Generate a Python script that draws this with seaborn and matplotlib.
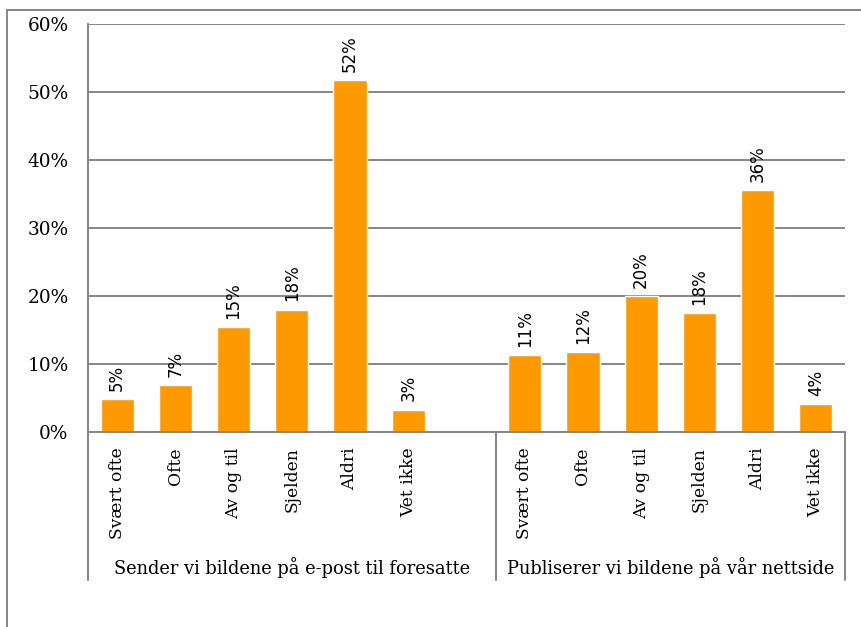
import pandas as pd
import matplotlib.pyplot as plt
import seaborn as sns
import matplotlib.ticker as ticker
from matplotlib.patches import Rectangle

sns.set_style('white')
plt.rcParams['font.family'] = ['DejaVu Serif']
plt.rcParams['text.color'] = 'black'
plt.rcParams['xtick.color'] = 'black'
plt.rcParams['ytick.color'] = 'black'

kategorier = ['Svært ofte', 'Ofte', 'Av og til', 'Sjelden', 'Aldri', 'Vet ikke']
grupper = ['Sender vi bildene på e-post til foresatte',
           'Publiserer vi bildene på vår nettside']
epost = [4.8, 6.9, 15.4, 18.0, 51.7, 3.3]
nettside = [11.3, 11.7, 20.0, 17.5, 35.6, 4.1]
yticks = [0, 10, 20, 30, 40, 50, 60]

# 7 plasser i første gruppe (en tom), 6 i andre
pos = list(range(len(kategorier))) + [len(kategorier) + 1 + i for i in range(len(kategorier))]
df = pd.DataFrame({
    'pos': pos,
    'verdi': epost + nettside,
    'kategori': kategorier + kategorier,
})

fig = plt.figure(figsize=(8.62, 6.27), dpi=100)
ax = fig.add_axes([88 / 862, 195 / 627, 757 / 862, 408 / 627])

sns.barplot(data=df, x='pos', y='verdi', native_scale=True, width=0.57,
            color='#FF9900', saturation=1, ax=ax)

ax.bar_label(ax.containers[0], labels=[f'{round(v)}%' for v in df['verdi']],
             rotation=90, padding=6, fontsize=12, family='DejaVu Sans')

grey = '#868686'
ax.set_xlim(-0.5, 12.5)
ax.set_ylim(0, 60)
ax.set_yticks(yticks)
ax.yaxis.set_major_formatter(ticker.FuncFormatter(lambda v, p: f'{v:.0f}%'))
ax.yaxis.grid(True, color=grey, lw=1.4)
ax.set_axisbelow(True)
ax.set_xticks(df['pos'])
ax.set_xticklabels(df['kategori'], rotation=90, va='top')
ax.tick_params(axis='x', length=0, pad=11, labelsize=12.3)
ax.tick_params(axis='y', length=0, pad=14, labelsize=13.3)
ax.set_xlabel('')
ax.set_ylabel('')
for s in ['top', 'right']:
    ax.spines[s].set_visible(False)
for s in ['left', 'bottom']:
    ax.spines[s].set_color(grey)
    ax.spines[s].set_linewidth(1.4)

# skillelinjer og gruppenavn under aksen
tr = ax.get_xaxis_transform()
for x in [-0.5, 6.5, 12.5]:
    ax.plot([x, x], [0, -0.363], color=grey, lw=1.4, transform=tr, clip_on=False)
ax.text(3, -0.333, grupper[0], transform=tr, ha='center', va='center', fontsize=12.9)
ax.text(9.5, -0.333, grupper[1], transform=tr, ha='center', va='center', fontsize=12.9)

fig.patches.append(Rectangle((7 / 862, -0.1), 1.2, (617 / 627) + 0.1,
                             transform=fig.transFigure, fill=False,
                             edgecolor=grey, lw=1.4))

fig.savefig('out.png', dpi=100)
